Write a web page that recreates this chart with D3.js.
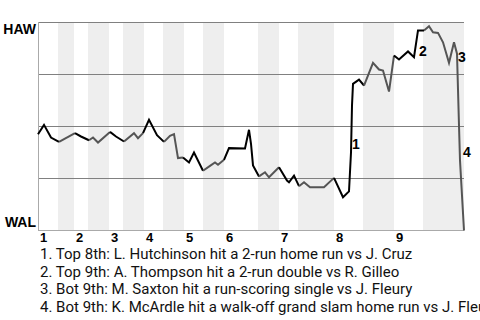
<!DOCTYPE html>
<html>
<head>
<meta charset="utf-8">
<script src="https://cdn.jsdelivr.net/npm/d3@7"></script>
<style>
  body { margin: 0; background: #fff; }
  svg { display: block; }
</style>
</head>
<body>
<div id="container"></div>
<script>
// DATA ###############################
const teams = ["HAW", "WAL"];
const innings = [1, 2, 3, 4, 5, 6, 7, 8, 9];
// start of each half inning (top, bottom) in pitch sequence units
const halfStarts = [0, 10, 18, 25, 35.5, 42.5, 53, 62.5, 73, 82.5, 93, 110, 120.5, 130, 148, 162.5, 178, 192.5];
const seqEnd = 213;

// pitch sequence and Hawaii win probability
const seq = [0, 3, 6.5, 10.5, 18.5, 21.5, 25.5, 27.5, 30, 36, 39, 43, 48, 50, 52.5,
  55.5, 59.5, 63, 66, 68, 70, 72.5, 75.5, 78, 82.5, 86, 88.5, 90, 93,
  95.5, 103.5, 105.5, 106.5, 107.5, 110.5, 113.5, 115.5, 120.5, 124.5, 125.5, 128, 130.5,
  133, 136, 143, 148, 152.5, 155.5, 156.5, 157, 157.5, 160.5, 163, 167.5, 170.5, 172.5,
  175.5, 178, 180.5, 185, 188, 190, 193, 195.5, 197.5, 200, 202.5, 205.5, 208, 209.5,
  210.5, 211, 212, 213];
const wp = [0.463, 0.508, 0.447, 0.426, 0.468, 0.452, 0.434, 0.447, 0.423, 0.474, 0.452, 0.428, 0.468, 0.444, 0.468,
  0.532, 0.458, 0.426, 0.455, 0.463, 0.348, 0.351, 0.327, 0.375, 0.287, 0.311, 0.327, 0.316, 0.340,
  0.396, 0.394, 0.484, 0.417, 0.313, 0.260, 0.280, 0.256, 0.304, 0.240, 0.232, 0.264, 0.213,
  0.232, 0.208, 0.208, 0.253, 0.160, 0.188, 0.375, 0.601, 0.705, 0.725, 0.697, 0.806, 0.774, 0.769,
  0.668, 0.841, 0.822, 0.861, 0.833, 0.962, 0.962, 0.982, 0.953, 0.950, 0.905, 0.806, 0.905, 0.850,
  0.505, 0.337, 0.168, 0];

// key plays: label number, where the marker sits
const keySeq = [157, 190.5, 210, 212.5];
const keyWp = [0.39, 0.838, 0.809, 0.352];
const keyText = [
  "1. Top 8th: L. Hutchinson hit a 2-run home run vs J. Cruz",
  "2. Top 9th: A. Thompson hit a 2-run double vs R. Gilleo",
  "3. Bot 9th: M. Saxton hit a run-scoring single vs J. Fleury",
  "4. Bot 9th: K. McArdle hit a walk-off grand slam home run vs J. Fleury"
];
const gridTicks = [0.25, 0.5, 0.75, 1];

// CONSTANTS ###############################
const width = 480, height = 320;
const margin = { top: 22.5, left: 38, right: 16, bottom: 89.5 };

const xScale = d3.scaleLinear()
  .domain([0, seqEnd])
  .range([margin.left, width - margin.right]);

const yScale = d3.scaleLinear()
  .domain([0, 1])
  .range([height - margin.bottom, margin.top]);

const svg = d3.select("#container")
  .append("svg")
  .attr("width", width)
  .attr("height", height);

// BANDS (bottom halves shaded)
const halves = halfStarts.map((s, i) => ({
  i, start: s, end: i < halfStarts.length - 1 ? halfStarts[i + 1] : seqEnd
}));

svg.selectAll("rect.band")
  .data(halves.filter(d => d.i % 2 === 1))
  .join("rect")
  .attr("class", "band")
  .attr("x", d => xScale(d.start))
  .attr("width", d => xScale(d.end) - xScale(d.start))
  .attr("y", yScale(1))
  .attr("height", yScale(0) - yScale(1))
  .attr("fill", "#eeeeee");

// GRID
svg.selectAll("line.grid")
  .data(gridTicks)
  .join("line")
  .attr("class", "grid")
  .attr("x1", xScale(0))
  .attr("x2", xScale(seqEnd))
  .attr("y1", d => yScale(d))
  .attr("y2", d => yScale(d))
  .attr("stroke", "#808080")
  .attr("stroke-width", 1);

// AXES lines
svg.append("line")
  .attr("x1", xScale(0)).attr("x2", xScale(seqEnd))
  .attr("y1", yScale(0)).attr("y2", yScale(0))
  .attr("stroke", "#aaaaaa");
svg.append("line")
  .attr("x1", xScale(0) + 0.5).attr("x2", xScale(0) + 0.5)
  .attr("y1", yScale(1) - 0.5).attr("y2", yScale(0))
  .attr("stroke", "#aaaaaa");

// WIN PROBABILITY LINE, coloured by half inning
const points = seq.map((s, i) => ({ s, p: wp[i] }));
const halfOf = s => d3.bisectRight(halfStarts, s) - 1;

const runs = [];
for (let i = 1; i < points.length; i++) {
  const h = halfOf((points[i - 1].s + points[i].s) / 2) % 2;
  const last = runs[runs.length - 1];
  if (last && last.h === h) last.pts.push(points[i]);
  else runs.push({ h, pts: [points[i - 1], points[i]] });
}

const line = d3.line()
  .x(d => xScale(d.s))
  .y(d => yScale(d.p));

svg.selectAll("path.wp")
  .data(runs)
  .join("path")
  .attr("class", "wp")
  .attr("d", d => line(d.pts))
  .attr("fill", "none")
  .attr("stroke", d => d.h === 0 ? "#000000" : "#555555")
  .attr("stroke-width", 2)
  .attr("stroke-linejoin", "miter");

// TEAM labels
svg.selectAll("text.team")
  .data(teams)
  .join("text")
  .attr("class", "team")
  .attr("x", margin.left - 2)
  .attr("y", (d, i) => i === 0 ? yScale(1) + 11.5 : yScale(0) - 4)
  .attr("text-anchor", "end")
  .attr("font-family", "Liberation Sans, Arial, sans-serif")
  .attr("font-weight", "bold")
  .attr("font-size", 14)
  .text(d => d);

// INNING labels
svg.selectAll("text.inning")
  .data(innings)
  .join("text")
  .attr("class", "inning")
  .attr("x", d => xScale(halfStarts[(d - 1) * 2]) + 2)
  .attr("y", 242)
  .attr("font-family", "Liberation Sans, Arial, sans-serif")
  .attr("font-weight", "bold")
  .attr("font-size", 13)
  .text(d => d);

// KEY PLAY markers
svg.selectAll("text.key")
  .data(keySeq)
  .join("text")
  .attr("class", "key")
  .attr("x", d => xScale(d))
  .attr("y", (d, i) => yScale(keyWp[i]))
  .attr("font-family", "Liberation Sans, Arial, sans-serif")
  .attr("font-weight", "bold")
  .attr("font-size", 14)
  .text((d, i) => i + 1);

// KEY PLAY notes
svg.selectAll("text.note")
  .data(keyText)
  .join("text")
  .attr("class", "note")
  .attr("x", 40)
  .attr("y", (d, i) => 259 + i * 17.7)
  .attr("font-family", "Roboto, sans-serif")
  .attr("font-size", 15)
  .attr("fill", "#111")
  .text(d => d);
</script>
</body>
</html>
